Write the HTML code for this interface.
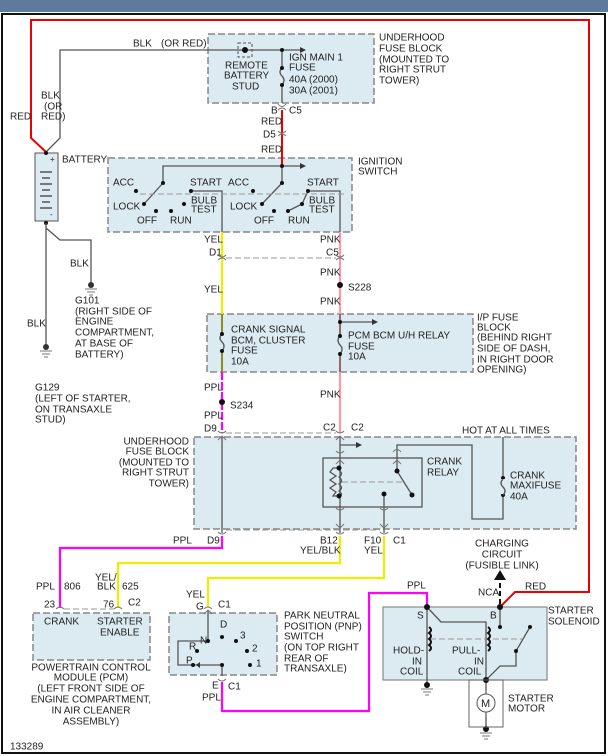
<!DOCTYPE html>
<html><head><meta charset="utf-8"><style>
html,body{margin:0;padding:0;background:#fff;}
svg{display:block;font-family:"Liberation Sans",sans-serif;}
text{font-size:10px;fill:#222;dominant-baseline:middle;}
.box{fill:#dcebf2;stroke:#888;stroke-width:1.5;stroke-dasharray:7,3;}
.w{fill:none;stroke:#555;stroke-width:1.3;}
.dash{fill:none;stroke:#999;stroke-width:1;stroke-dasharray:6,3;}
.r{fill:none;stroke:#e00;stroke-width:2;}
.y{fill:none;stroke:#ee0;stroke-width:2.2;}
.p{fill:none;stroke:#f0f;stroke-width:2.2;}
.k{fill:none;stroke:#f9a;stroke-width:2.2;}
.c{fill:none;stroke:#777;stroke-width:1;}
</style></head><body>
<svg width="608" height="756" viewBox="0 0 608 756">
<rect x="0" y="0" width="608" height="12" fill="#5e7a9c"/>
<rect x="2" y="14" width="603" height="739" fill="#fff" stroke="#111" stroke-width="2"/>

<!-- boxes -->
<rect class="box" x="208" y="34" width="166" height="69"/>
<rect class="box" x="108" y="158" width="244" height="74"/>
<rect class="box" x="207" y="314" width="266" height="58"/>
<rect class="box" x="194" y="437" width="382" height="92"/>
<rect class="box" x="33" y="613" width="117" height="47"/>
<rect class="box" x="169" y="613" width="108" height="62"/>
<rect x="383" y="607" width="164" height="73" fill="#dcebf2" stroke="#888" stroke-width="1.2"/>
<rect x="323" y="458" width="99" height="49" fill="none" stroke="#555" stroke-width="1.3"/>

<!-- red main -->
<path class="r" d="M46 152 L31 138 L31 20 L589 20 L589 592 L515 592 L500 607"/>
<!-- BLK -->
<path class="w" d="M46 152 L60 138 L60 50 L245 50 L300 50"/>
<path d="M300 47 L306 50 L300 53Z" fill="#333"/>
<rect x="238" y="43" width="14" height="14" fill="none" stroke="#555" stroke-dasharray="3,2"/>
<circle cx="245" cy="50" r="3" fill="#111"/>
<!-- battery -->
<rect x="35" y="153" width="23" height="68" fill="#dcebf2" stroke="#555"/>
<g stroke="#555" stroke-width="1.5">
<line x1="40" y1="172" x2="52" y2="172"/><line x1="42" y1="178" x2="50" y2="178"/>
<line x1="40" y1="184" x2="52" y2="184"/><line x1="42" y1="190" x2="50" y2="190"/>
<line x1="40" y1="196" x2="52" y2="196"/><line x1="42" y1="202" x2="50" y2="202"/>
<line x1="40" y1="208" x2="52" y2="208"/>
</g>
<text x="50" y="160" style="font-size:8px">+</text><text x="50" y="215" style="font-size:8px">-</text>
<circle cx="46" cy="153" r="2" fill="#111"/><circle cx="46" cy="223" r="2" fill="#111"/>
<path class="w" d="M46 223 L46 345 M46 228 L60 240 L91 240 L91 283"/>
<g fill="#333"><circle cx="91" cy="285" r="3"/><circle cx="46" cy="347" r="3"/></g>
<path class="c" d="M85 289 H97 M87 292 H95 M89 295 H93 M40 351 H52 M42 354 H50 M44 357 H48"/>

<!-- ign main fuse -->
<path class="w" d="M282 50 V68 M282 85 V103"/>
<path class="w" d="M282 68 q-4 4 0 8 q4 4 0 9"/>
<circle cx="282" cy="50" r="2" fill="#111"/><circle cx="282" cy="68" r="2" fill="#111"/><circle cx="282" cy="85" r="2" fill="#111"/>
<path class="r" d="M282 110 V165"/>
<path class="c" d="M278 104 q4 5 8 0 M278 110 q4 -4 8 0 M278 131 q4 4 8 0 M278 136 q4 -4 8 0"/>

<!-- ignition switch -->
<path class="w" d="M282 165 V183 M163 183 V166 H300 M163 183 L144 204 M282 183 L262 204 M191 191 H222 V232 M308 191 H340 V232 M288 211 L302 204 L308 191"/>
<path d="M300 163 L306 166 L300 169Z" fill="#333"/>
<line class="dash" x1="140" y1="194" x2="345" y2="194"/>
<g fill="#111">
<circle cx="282" cy="166" r="2"/><circle cx="163" cy="183" r="2"/><circle cx="282" cy="183" r="2"/>
<circle cx="144" cy="204" r="2"/><circle cx="136" cy="191" r="2"/><circle cx="156" cy="211" r="2"/><circle cx="171" cy="211" r="2"/><circle cx="184" cy="204" r="2"/><circle cx="191" cy="191" r="2"/>
<circle cx="262" cy="204" r="2"/><circle cx="253" cy="191" r="2"/><circle cx="274" cy="211" r="2"/><circle cx="288" cy="211" r="2"/><circle cx="302" cy="204" r="2"/><circle cx="308" cy="191" r="2"/>
</g>
<text x="113" y="183">ACC</text><text x="113" y="207">LOCK</text><text x="137" y="221">OFF</text><text x="170" y="221">RUN</text>
<text x="191" y="201">BULB</text><text x="191" y="210">TEST</text><text x="190" y="183">START</text>
<text x="228" y="183">ACC</text><text x="230" y="207">LOCK</text><text x="254" y="221">OFF</text><text x="288" y="221">RUN</text>
<text x="309" y="201">BULB</text><text x="309" y="210">TEST</text><text x="307" y="183">START</text>

<!-- yel / pnk down -->
<path class="y" d="M222 232 V372"/>
<path class="k" d="M340 232 V433"/>
<path class="c" d="M218 255 q4 4 8 0 M218 260 q4 -4 8 0 M336 255 q4 4 8 0 M336 260 q4 -4 8 0"/>
<line class="dash" x1="226" y1="258" x2="336" y2="258"/>
<circle cx="340" cy="285" r="3" fill="#111"/>
<!-- IP fuses -->
<path class="w" d="M222 314 V333 M222 351 V372 M340 322 H372 M340 314 V372" />
<rect x="218" y="334" width="8" height="16" fill="#dcebf2"/><rect x="336" y="336" width="8" height="18" fill="#dcebf2"/>
<path class="w" d="M222 334 q-4 4 0 8 q4 4 0 9 M340 336 q-4 4 0 9 q4 4 0 9"/>
<path d="M372 319 L378 322 L372 325Z" fill="#333"/>
<g fill="#111"><circle cx="222" cy="334" r="2"/><circle cx="222" cy="351" r="2"/><circle cx="340" cy="322" r="2"/><circle cx="340" cy="336" r="2"/><circle cx="340" cy="354" r="2"/></g>
<path class="p" d="M222 372 V433" stroke-dasharray="8,2"/>
<circle cx="222" cy="402" r="3" fill="#111"/>
<path class="c" d="M218 431 q4 4 8 0 M218 440 l4 -4 l4 4 M336 431 q4 4 8 0 M336 440 l4 -4 l4 4"/>
<line class="dash" x1="226" y1="433" x2="336" y2="433"/>

<!-- lower fuse block internals -->
<path class="w" d="M222 437 V533 M340 437 V533 M340 445 H356 M384 494 V533 M397 471 V448 V445 H472 V519 H503 V437 M397 471 L412 495"/>
<path d="M356 442 L362 445 L356 448Z" fill="#333"/>
<path class="c" d="M336 451 q4 4 8 0 M336 464 l4 -4 l4 4 M393 452 q4 -5 8 0 M393 464 l4 -4 l4 4 M336 508 q4 4 8 0 M336 524 l4 4 l4 -4 M380 508 q4 4 8 0 M380 524 l4 4 l4 -4"/>
<path class="w" d="M339 468 H333 L330 472 L336 476 L330 480 L336 484 L330 488 L336 492 L333 496 H339 M339 470 q5 4 0 7 q5 4 0 7 q5 4 0 7 q5 4 0 6"/>
<line class="dash" x1="342" y1="482" x2="402" y2="482"/>
<g fill="#111"><circle cx="339" cy="468" r="2.5"/><circle cx="339" cy="496" r="2.5"/><circle cx="384" cy="494" r="2.5"/><circle cx="397" cy="471" r="2.5"/><circle cx="412" cy="495" r="2.5"/><circle cx="503" cy="478" r="2"/><circle cx="503" cy="495" r="2"/></g>
<rect x="499" y="479" width="8" height="15" fill="#dcebf2"/>
<path class="w" d="M503 479 q-4 4 0 8 q4 4 0 8"/>
<path class="c" d="M218 532 q4 4 8 0 M336 532 q4 4 8 0 M380 532 q4 4 8 0"/>
<line class="dash" x1="226" y1="530" x2="380" y2="530"/>

<!-- routes -->
<path class="p" d="M222 536 V548 H60 V608"/>
<path class="y" d="M340 536 V563 H118 V608"/>
<path class="y" d="M384 536 V578 H208 V607"/>
<path class="c" d="M56 609 q4 -4 8 0 M114 609 q4 -4 8 0 M204 609 q4 -4 8 0"/>
<line class="dash" x1="64" y1="609" x2="114" y2="609"/>

<!-- PNP -->
<path class="w" d="M208 611 V641 H178 V665 H222 V676"/>
<g fill="#111"><circle cx="208" cy="641" r="2"/><circle cx="222" cy="637" r="2"/><circle cx="236" cy="641" r="2"/><circle cx="247" cy="651" r="2"/><circle cx="250" cy="665" r="2"/><circle cx="197" cy="651" r="2"/><circle cx="193" cy="665" r="2"/><circle cx="222" cy="665" r="2"/></g>
<path d="M200 662 L196 665 L200 668Z" fill="#333"/>
<path class="c" d="M218 679 q4 4 8 0 M204 614 l4 -4 l4 4"/>
<path class="p" d="M222 682 V711 H369 V593 H427 V607"/>

<!-- starter solenoid -->
<path class="w" d="M427 607 V683 M427 607 L441 622 H486 V680 M500 607 V627 M530 627 L516 651 V666 H500 L486 680 V727"/>
<path d="M500 575 V604" stroke="#111" stroke-width="2" stroke-dasharray="5,3"/>
<path d="M494 580 L500 570 L506 580Z" fill="#111"/>
<line class="dash" x1="430" y1="639" x2="522" y2="639"/>
<path d="M429 627 q4 3 0 6 q4 3 0 6 q4 3 0 6 q4 3 0 6 M488 627 q4 3 0 6 q4 3 0 6 q4 3 0 6 q4 3 0 6" fill="none" stroke="#111" stroke-width="2"/>
<g fill="#111"><circle cx="427" cy="607" r="3"/><circle cx="500" cy="607" r="3"/><circle cx="500" cy="627" r="2"/><circle cx="530" cy="627" r="2"/><circle cx="516" cy="651" r="2"/><circle cx="486" cy="680" r="3"/><circle cx="427" cy="685" r="3"/><circle cx="486" cy="729" r="3"/></g>
<path class="c" d="M421 689 H433 M423 692 H431 M425 695 H429 M480 733 H492 M482 736 H490 M484 739 H488"/>
<rect x="469" y="680" width="34" height="47" fill="none" stroke="#666"/>
<line x1="486" y1="690" x2="486" y2="716" stroke="#666"/>
<circle cx="486" cy="703" r="9" fill="#fff" stroke="#555"/>
<text x="481" y="704" style="font-size:11px">M</text>

<!-- labels -->
<text x="133" y="44">BLK</text><text x="161" y="44">(OR RED)</text>
<text x="41" y="96">BLK</text><text x="44" y="107">(OR</text><text x="41" y="117">RED)</text><text x="10" y="117">RED</text>
<text x="62" y="160">BATTERY</text>
<text x="379" y="38">UNDERHOOD</text><text x="379" y="49">FUSE BLOCK</text><text x="379" y="60">(MOUNTED TO</text><text x="379" y="70">RIGHT STRUT</text><text x="379" y="81">TOWER)</text>
<text x="225" y="66">REMOTE</text><text x="224" y="76">BATTERY</text><text x="232" y="87">STUD</text>
<text x="289" y="58">IGN MAIN 1</text><text x="289" y="68">FUSE</text><text x="289" y="80">40A   (2000)</text><text x="289" y="91">30A   (2001)</text>
<text x="271" y="111">B</text><text x="289" y="111">C5</text><text x="261" y="122">RED</text><text x="263" y="135">D5</text><text x="261" y="150">RED</text>
<text x="358" y="162">IGNITION</text><text x="358" y="172">SWITCH</text>
<text x="204" y="240">YEL</text><text x="209" y="253">D1</text><text x="320" y="240">PNK</text><text x="326" y="253">C5</text>
<text x="204" y="290">YEL</text><text x="320" y="273">PNK</text><text x="348" y="288">S228</text><text x="320" y="302">PNK</text>
<text x="231" y="330">CRANK SIGNAL</text><text x="231" y="341">BCM, CLUSTER</text><text x="231" y="351">FUSE</text><text x="231" y="362">10A</text>
<text x="348" y="336">PCM BCM U/H RELAY</text><text x="348" y="347">FUSE</text><text x="348" y="357">10A</text>
<text x="477" y="318">I/P FUSE</text><text x="477" y="328">BLOCK</text><text x="477" y="338">(BEHIND RIGHT</text><text x="477" y="349">SIDE OF DASH,</text><text x="477" y="360">IN RIGHT DOOR</text><text x="477" y="370">OPENING)</text>
<text x="204" y="388">PPL</text><text x="230" y="406">S234</text><text x="204" y="416">PPL</text><text x="204" y="429">D9</text>
<text x="320" y="395">PNK</text><text x="323" y="428">C2</text><text x="351" y="428">C2</text>
<text x="462" y="431">HOT AT ALL TIMES</text>
<g text-anchor="end"><text x="189" y="442">UNDERHOOD</text><text x="189" y="452">FUSE BLOCK</text><text x="189" y="463">(MOUNTED TO</text><text x="189" y="473">RIGHT STRUT</text><text x="189" y="484">TOWER)</text></g>
<text x="427" y="462">CRANK</text><text x="427" y="473">RELAY</text>
<text x="510" y="476">CRANK</text><text x="510" y="486">MAXIFUSE</text><text x="510" y="497">40A</text>
<text x="173" y="541">PPL</text><text x="207" y="541">D9</text><text x="320" y="541">B12</text><text x="300" y="551">YEL/BLK</text>
<text x="364" y="541">F10</text><text x="364" y="551">YEL</text><text x="393" y="541">C1</text>
<text x="36" y="587">PPL</text><text x="64" y="587">806</text><text x="95" y="578">YEL/</text><text x="97" y="587">BLK</text><text x="122" y="587">625</text>
<text x="44" y="605">23</text><text x="103" y="605">76</text><text x="128" y="603">C2</text>
<text x="44" y="622">CRANK</text><text x="97" y="622">STARTER</text><text x="100" y="633">ENABLE</text>
<g text-anchor="middle"><text x="91" y="668">POWERTRAIN CONTROL</text><text x="91" y="678">MODULE (PCM)</text><text x="91" y="689">(LEFT FRONT SIDE OF</text><text x="91" y="700">ENGINE COMPARTMENT,</text><text x="91" y="711">IN AIR CLEANER</text><text x="91" y="722">ASSEMBLY)</text>
<text x="502" y="544">CHARGING</text><text x="502" y="555">CIRCUIT</text><text x="502" y="566">(FUSIBLE LINK)</text></g>
<text x="186" y="595">YEL</text><text x="196" y="607">G</text><text x="218" y="605">C1</text>
<text x="200" y="641">N</text><text x="220" y="625">D</text><text x="240" y="636">3</text><text x="252" y="649">2</text><text x="256" y="664">1</text><text x="189" y="647">R</text><text x="186" y="661">P</text>
<text x="212" y="686">E</text><text x="228" y="687">C1</text><text x="202" y="698">PPL</text>
<text x="284" y="616">PARK NEUTRAL</text><text x="284" y="627">POSITION (PNP)</text><text x="284" y="637">SWITCH</text><text x="284" y="648">(ON TOP RIGHT</text><text x="284" y="659">REAR OF</text><text x="284" y="669">TRANSAXLE)</text>
<text x="407" y="586">PPL</text><text x="478" y="593">NCA</text><text x="525" y="587">RED</text>
<text x="417" y="616">S</text><text x="490" y="616">B</text>
<text x="548" y="611">STARTER</text><text x="548" y="622">SOLENOID</text>
<text x="393" y="651">HOLD-</text><text x="412" y="662">IN</text><text x="400" y="672">COIL</text>
<text x="452" y="651">PULL-</text><text x="474" y="662">IN</text><text x="458" y="672">COIL</text>
<text x="508" y="699">STARTER</text><text x="508" y="709">MOTOR</text>
<text x="70" y="264">BLK</text><text x="75" y="301">G101</text><text x="75" y="312">(RIGHT SIDE OF</text><text x="75" y="322">ENGINE</text><text x="75" y="333">COMPARTMENT,</text><text x="75" y="344">AT BASE OF</text><text x="75" y="355">BATTERY)</text>
<text x="27" y="324">BLK</text><text x="35" y="388">G129</text><text x="35" y="399">(LEFT OF STARTER,</text><text x="35" y="410">ON TRANSAXLE</text><text x="35" y="420">STUD)</text>
<text x="10" y="747">133289</text>
</svg>
</body></html>
